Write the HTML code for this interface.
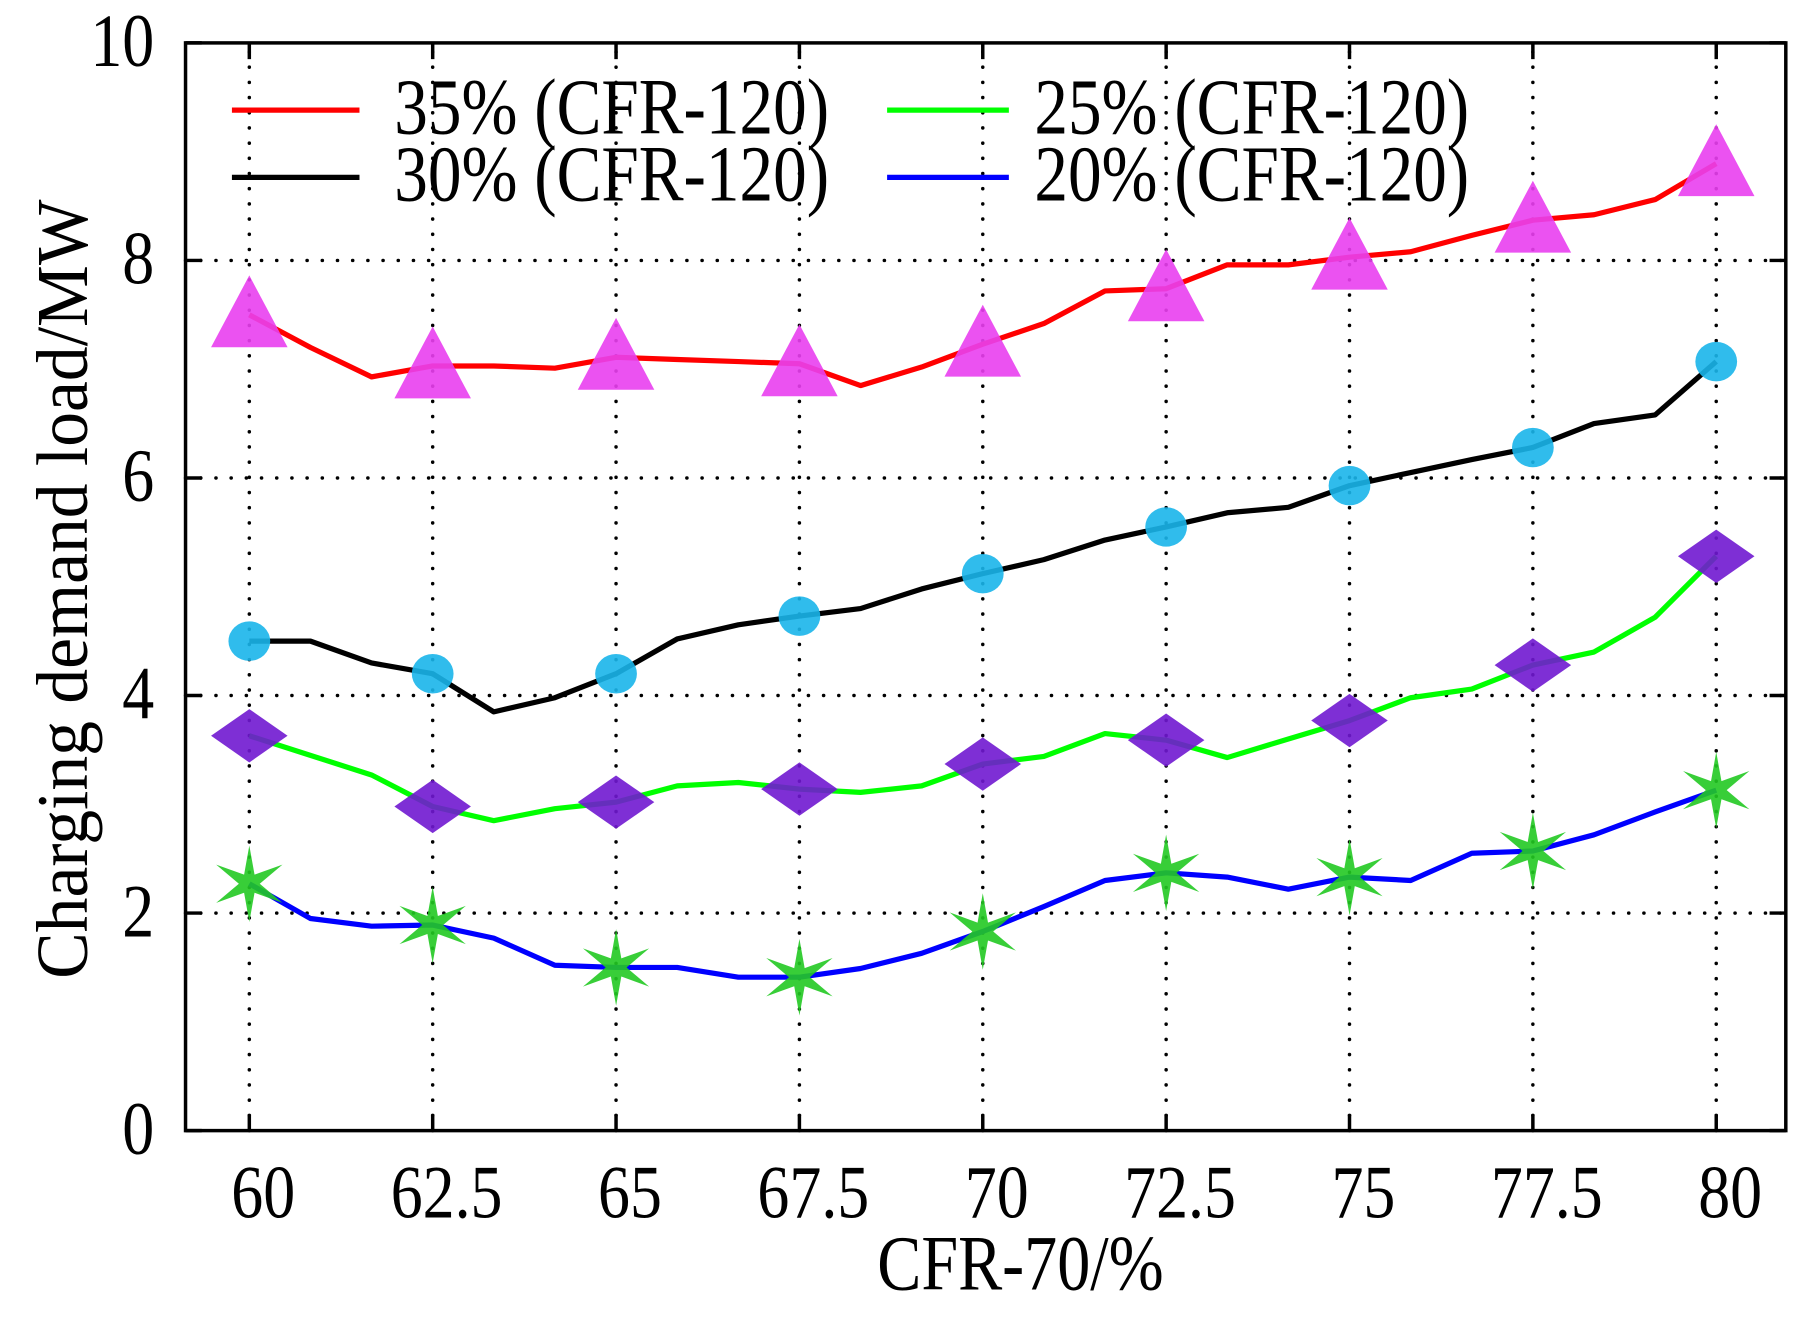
<!DOCTYPE html>
<html><head><meta charset="utf-8"><style>
html,body{margin:0;padding:0;background:#fff;}
svg{display:block;}
text{font-family:"Liberation Serif",serif;fill:#000;}
</style></head><body>
<svg id="chart" width="1809" height="1318" viewBox="0 0 1560 1136.6" preserveAspectRatio="none" xmlns="http://www.w3.org/2000/svg">
<g id="grid"></g>
<g id="series"></g>
<g id="markers"></g>
<rect x="160" y="37" width="1380" height="938" fill="none" stroke="#000" stroke-width="3"/>
<g id="ticks"></g>
<text transform="translate(75,508) rotate(-90) scale(1,1.05)" text-anchor="middle" font-size="60">Charging demand load/MW</text>
<text transform="translate(880,1112) scale(0.95,1.12)" text-anchor="middle" font-size="60">CFR-70/%</text>
<g>
<line x1="200" y1="95" x2="310" y2="95" stroke="#ff0000" stroke-width="4.5"/>
<text transform="translate(340,115) scale(0.95,1.12)" font-size="61">35% (CFR-120)</text>
<line x1="200" y1="153" x2="310" y2="153" stroke="#000" stroke-width="4.5"/>
<text transform="translate(340,173) scale(0.95,1.12)" font-size="61">30% (CFR-120)</text>
<line x1="765" y1="95" x2="870" y2="95" stroke="#00ff00" stroke-width="4.5"/>
<text transform="translate(892,115) scale(0.95,1.12)" font-size="61">25% (CFR-120)</text>
<line x1="765" y1="153" x2="870" y2="153" stroke="#0000ff" stroke-width="4.5"/>
<text transform="translate(892,173) scale(0.95,1.12)" font-size="61">20% (CFR-120)</text>
</g>
</svg>
<script>
const xTicks = [60, 62.5, 65, 67.5, 70, 72.5, 75, 77.5, 80];
const xTickLabels = ["60","62.5","65","67.5","70","72.5","75","77.5","80"];
const yTicks = [0, 2, 4, 6, 8, 10];
const yTickLabels = ["0","2","4","6","8","10"];
const red35 = [7.5,7.2,6.93,7.03,7.03,7.01,7.11,7.09,7.07,7.05,6.85,7.02,7.23,7.42,7.72,7.74,7.96,7.96,8.03,8.08,8.23,8.37,8.42,8.56,8.89];
const black30 = [4.5,4.5,4.3,4.2,3.85,3.98,4.2,4.52,4.65,4.73,4.8,4.98,5.12,5.25,5.43,5.55,5.68,5.73,5.93,6.05,6.17,6.28,6.5,6.58,7.07];
const green25 = [3.63,3.45,3.27,2.98,2.85,2.96,3.02,3.17,3.2,3.14,3.11,3.17,3.37,3.44,3.65,3.59,3.43,3.6,3.77,3.98,4.06,4.28,4.4,4.72,5.28];
const blue20 = [2.27,1.95,1.88,1.89,1.77,1.52,1.5,1.5,1.41,1.41,1.49,1.63,1.83,2.06,2.3,2.37,2.33,2.22,2.33,2.3,2.55,2.57,2.72,2.93,3.13];
const xStart = 60, xEnd = 80;

const NS = "http://www.w3.org/2000/svg";
function X(v){ return 215 + (v - 60) * (1480 - 215) / 20; }
function Y(v){ return 975 - v * (975 - 37) / 10; }
function mk(tag, attrs, parent){ const e = document.createElementNS(NS, tag); for (const k in attrs) e.setAttribute(k, attrs[k]); parent.appendChild(e); return e; }
const grid = document.getElementById('grid'), ticks = document.getElementById('ticks');
const series = document.getElementById('series'), markers = document.getElementById('markers');
const dot = {stroke:'#000','stroke-width':3,'stroke-dasharray':'0.1 13','stroke-linecap':'round'};

xTicks.forEach((t,i)=>{
  const g = mk('line', Object.assign({x1:X(t),x2:X(t),y1:975,y2:37}, dot), grid);
  
  
  const a = mk('line',{x1:X(t),x2:X(t),y1:975,y2:961,stroke:'#000','stroke-width':3},ticks);
  
  
  const b = mk('line',{x1:X(t),x2:X(t),y1:37,y2:51,stroke:'#000','stroke-width':3},ticks);
  
  
  const l = mk('text',{transform:`translate(${X(t)+12},1050) scale(0.95,1.12)`,'text-anchor':'middle','font-size':58},ticks);
  l.textContent = xTickLabels[i];
  
  
});
yTicks.forEach((t,i)=>{
  if (t>0 && t<10){
    const g = mk('line', Object.assign({x1:160,x2:1540,y1:Y(t),y2:Y(t)}, dot), grid);
    
    
  }
  const a = mk('line',{x1:160,x2:174,y1:Y(t),y2:Y(t),stroke:'#000','stroke-width':3},ticks);
  
  
  const b = mk('line',{x1:1526,x2:1540,y1:Y(t),y2:Y(t),stroke:'#000','stroke-width':3},ticks);
  
  
  const l = mk('text',{transform:`translate(133,${Y(t)+20}) scale(0.95,1.12)`,'text-anchor':'end','font-size':58},ticks);
  l.textContent = yTickLabels[i];
  
  
});

function xAt(i, n){ return xStart + i * (xEnd - xStart) / (n - 1); }
function drawSeries(vals, color, name){
  const pts = vals.map((v,i)=>X(xAt(i, vals.length)).toFixed(1)+','+Y(v).toFixed(1)).join(' ');
  const p = mk('polyline',{points:pts,fill:'none',stroke:color,'stroke-width':4.5,'stroke-linejoin':'round'},series);
  
  
}
drawSeries(red35,'#ff0000','line-35');
drawSeries(black30,'#000000','line-30');
drawSeries(green25,'#00ff00','line-25');
drawSeries(blue20,'#0000ff','line-20');

function starPath(cx,cy,R,r,n){
  let d='';
  for(let k=0;k<2*n;k++){
    const ang = -Math.PI/2 + k*Math.PI/n;
    const rr = k%2===0 ? R : r;
    d += (k===0?'M':'L') + (cx+rr*Math.cos(ang)).toFixed(1)+','+(cy+rr*Math.sin(ang)).toFixed(1);
  }
  return d+'Z';
}
function drawMarkers(vals, type, name){
  for (let i=0;i<vals.length;i+=3){
    const cx = X(xAt(i, vals.length)), cy = Y(vals[i]);
    let e;
    if (type==='tri') e = mk('polygon',{points:`${cx},${cy-34} ${cx+33},${cy+28} ${cx-33},${cy+28}`,fill:'#e93fef','fill-opacity':0.9},markers);
    else if (type==='circ') e = mk('ellipse',{cx:cx,cy:cy,rx:18,ry:17,fill:'#1ab5ea','fill-opacity':0.9},markers);
    else if (type==='dia') e = mk('polygon',{points:`${cx},${cy-23} ${cx+33},${cy} ${cx},${cy+23} ${cx-33},${cy}`,fill:'#7018d0','fill-opacity':0.9},markers);
    else e = mk('path',{d:starPath(cx,cy,33,9,6),fill:'#22c922','fill-opacity':0.9},markers);
    
    
  }
}
drawMarkers(red35,'tri','marker-35');
drawMarkers(black30,'circ','marker-30');
drawMarkers(green25,'dia','marker-25');
drawMarkers(blue20,'star','marker-20');
</script>
</body></html>
